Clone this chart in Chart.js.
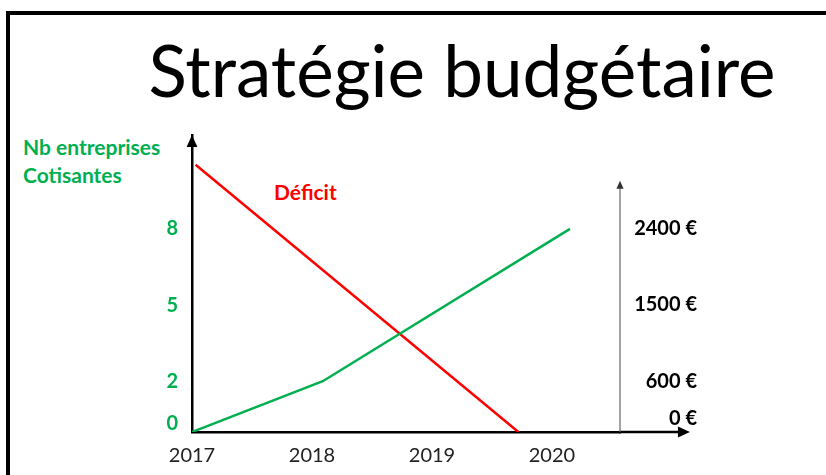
<!DOCTYPE html>
<html lang="fr">
<head>
    <meta charset="UTF-8">
    <title>Stratégie budgétaire</title>
    <style>
        body {
            margin: 0;
            width: 826px;
            height: 475px;
            background: #fff;
            font-family: 'Lato', sans-serif;
            position: relative;
            overflow: hidden;
        }

        .frame {
            position: absolute;
            left: 6px;
            top: 11px;
            width: 840px;
            height: 500px;
            border-left: 4px solid #000;
            border-top: 4px solid #000;
        }

        h1 {
            position: absolute;
            left: 0;
            width: 924px;
            top: 30px;
            margin: 0;
            text-align: center;
            font-size: 71px;
            font-weight: 400;
            line-height: 80px;
        }

        .y-title {
            position: absolute;
            left: 23px;
            top: 133px;
            color: #00b050;
            font-weight: 700;
            font-size: 21px;
            line-height: 28px;
        }

        .deficit {
            position: absolute;
            left: 274px;
            top: 179px;
            color: #ff0000;
            font-weight: 700;
            font-size: 21px;
        }

        canvas {
            position: absolute;
            left: 0;
            top: 0;
        }
    </style>
    <script src="https://cdn.jsdelivr.net/npm/chart.js"></script>
</head>
<body>
    <div class="frame"></div>
    <h1>Stratégie budgétaire</h1>
    <div class="y-title">Nb entreprises<br>Cotisantes</div>
    <div class="deficit">Déficit</div>
    <canvas id="budgetChart" width="826" height="475"></canvas>

    <script>
        // tick labels
        const years = [2017, 2018, 2019, 2020];
        const companyTicks = [0, 2, 5, 8];
        const euroTicks = [0, 600, 1500, 2400];

        // Nb entreprises cotisantes (left axis)
        const companyX = [2017, 2018.09, 2020.15];
        const companyY = [0, 2, 8];

        // Déficit in € (right axis)
        const deficitX = [2017.03, 2019.72];
        const deficitY = [3150, 0];

        // axis extents
        const xMin = 2017, xMax = 2020.567, xArrowEnd = 2021.15;
        const yMax = 11.7, euroMax = 3500, euroAxisTop = 2960;

        const toPoints = (xs, ys) => xs.map((x, i) => ({ x: x, y: ys[i] }));

        // the zero labels sit a little above the x axis: an empty 2nd line lifts them
        const liftZero = (v, text) => v === 0 ? [text, ''] : text;
        const tickFont = zeroLine => ctx => ({
            family: 'Lato', size: 20, weight: 'bold',
            lineHeight: ctx.tick && ctx.tick.value === 0 ? zeroLine : 1.2
        });

        function arrowHead(ctx, x, y, angle, size) {
            ctx.save();
            ctx.translate(x, y);
            ctx.rotate(angle);
            ctx.beginPath();
            ctx.moveTo(0, 0);
            ctx.lineTo(-size, -size * 0.45);
            ctx.lineTo(-size, size * 0.45);
            ctx.closePath();
            ctx.fill();
            ctx.restore();
        }

        // arrows + the short € axis
        const axisArrows = {
            id: 'axisArrows',
            afterDraw(chart) {
                const ctx = chart.ctx;
                const area = chart.chartArea;
                const xs = chart.scales.x;
                const y2 = chart.scales.y2;

                ctx.save();
                ctx.fillStyle = '#000';
                ctx.strokeStyle = '#000';
                ctx.lineWidth = 2.5;

                // x axis runs past the plot
                const xEnd = xs.getPixelForValue(xArrowEnd);
                ctx.beginPath();
                ctx.moveTo(area.right - 1, area.bottom);
                ctx.lineTo(xEnd - 6, area.bottom);
                ctx.stroke();
                arrowHead(ctx, xEnd, area.bottom, 0, 12);

                // y axis arrow
                arrowHead(ctx, area.left, area.top, -Math.PI / 2, 12);

                // € axis, thin grey
                const topPx = y2.getPixelForValue(euroAxisTop);
                ctx.strokeStyle = '#666';
                ctx.fillStyle = '#333';
                ctx.lineWidth = 1.2;
                ctx.beginPath();
                ctx.moveTo(area.right, area.bottom);
                ctx.lineTo(area.right, topPx + 4);
                ctx.stroke();
                arrowHead(ctx, area.right, topPx, -Math.PI / 2, 8);
                ctx.restore();
            }
        };

        new Chart(document.getElementById('budgetChart'), {
            type: 'line',
            data: {
                datasets: [{
                    label: 'Nb entreprises cotisantes',
                    data: toPoints(companyX, companyY),
                    borderColor: '#00b050',
                    borderWidth: 2.5,
                    pointRadius: 0,
                    yAxisID: 'y'
                }, {
                    label: 'Déficit',
                    data: toPoints(deficitX, deficitY),
                    borderColor: '#ff0000',
                    borderWidth: 2.5,
                    pointRadius: 0,
                    yAxisID: 'y2'
                }]
            },
            options: {
                responsive: false,
                animation: false,
                layout: { padding: { left: 0, right: 129, top: 135, bottom: 0 } },
                plugins: {
                    legend: { display: false },
                    tooltip: { enabled: false }
                },
                scales: {
                    x: {
                        type: 'linear',
                        min: xMin,
                        max: xMax,
                        afterBuildTicks: s => { s.ticks = years.map(v => ({ value: v })); },
                        afterFit: s => { s.height = 43; },
                        grid: { display: false, drawTicks: false },
                        border: { display: true, color: '#000', width: 2.5 },
                        ticks: {
                            padding: 12,
                            color: '#222',
                            font: { family: 'Lato', size: 20 },
                            callback: v => String(v)
                        }
                    },
                    y: {
                        position: 'left',
                        min: 0,
                        max: yMax,
                        afterBuildTicks: s => { s.ticks = companyTicks.map(v => ({ value: v })); },
                        afterFit: s => { s.width = 192; },
                        grid: { display: false, drawTicks: false },
                        border: { display: true, color: '#000', width: 2.5 },
                        ticks: {
                            padding: 14,
                            color: '#00b050',
                            font: tickFont(0.8),
                            callback: v => liftZero(v, String(v))
                        }
                    },
                    y2: {
                        position: 'right',
                        min: 0,
                        max: euroMax,
                        afterBuildTicks: s => { s.ticks = euroTicks.map(v => ({ value: v })); },
                        afterFit: s => { s.width = 77; },
                        grid: { display: false, drawTicks: false },
                        border: { display: false },
                        ticks: {
                            padding: 14,
                            crossAlign: 'far',
                            color: '#000',
                            font: tickFont(1.3),
                            callback: v => liftZero(v, v + ' €')
                        }
                    }
                }
            },
            plugins: [axisArrows]
        });
    </script>
</body>
</html>
